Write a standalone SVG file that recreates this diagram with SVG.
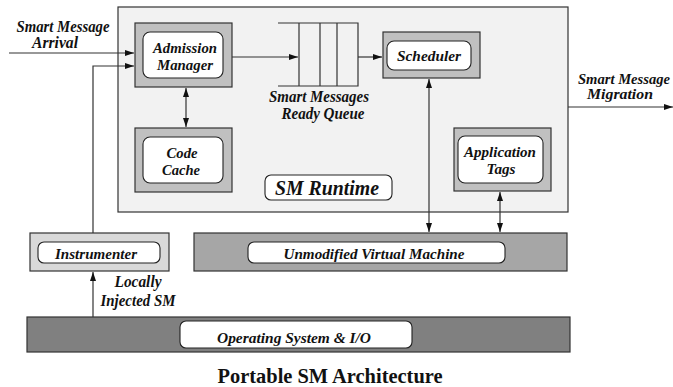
<svg xmlns="http://www.w3.org/2000/svg" width="673" height="387" viewBox="0 0 673 387">
<style>
.frame{fill:#c0c0c0;stroke:#333;stroke-width:1.2}
.inner{fill:#fff;stroke:#222;stroke-width:1.1}
.t{font-family:"Liberation Serif","Times New Roman",serif;font-weight:bold;font-style:italic;font-size:15px;fill:#111;text-anchor:middle}
.lbl{font-size:16px}
.ln{fill:none;stroke:#333;stroke-width:1.2}
</style>
<defs>
<marker id="ah" markerWidth="9" markerHeight="6" refX="9" refY="3" orient="auto-start-reverse" markerUnits="userSpaceOnUse">
<path d="M0,0 L9,3 L0,6 z" fill="#111"/>
</marker>
</defs>
<rect width="673" height="387" fill="#fff"/>

<g id="sm-runtime">
<rect x="118" y="7" width="450" height="205" fill="#f2f2f2" stroke="#333" stroke-width="1.2"/>
<rect x="265" y="175" width="127" height="25" rx="6" class="inner"/>
<text x="327" y="195" class="t" style="font-size:20px" textLength="104" lengthAdjust="spacingAndGlyphs">SM Runtime</text>
</g>

<g id="admission-manager">
<rect x="135" y="23" width="97" height="64" class="frame"/>
<rect x="143" y="32" width="80" height="46" rx="7" class="inner"/>
<text x="185" y="53" class="t" textLength="64" lengthAdjust="spacingAndGlyphs">Admission</text>
<text x="185" y="70" class="t" textLength="56" lengthAdjust="spacingAndGlyphs">Manager</text>
</g>

<g id="code-cache">
<rect x="135" y="128" width="97" height="64" class="frame"/>
<rect x="143" y="137" width="80" height="46" rx="7" class="inner"/>
<text x="182" y="158" class="t" textLength="31" lengthAdjust="spacingAndGlyphs">Code</text>
<text x="181" y="175" class="t" textLength="38" lengthAdjust="spacingAndGlyphs">Cache</text>
</g>

<g id="ready-queue">
<path d="M278,23 H358 V86 H278 M299,23 V86 M320,23 V86 M337,23 V86" class="ln"/>
<text x="319" y="102" class="t lbl" textLength="100" lengthAdjust="spacingAndGlyphs">Smart Messages</text>
<text x="323" y="119" class="t lbl" textLength="83" lengthAdjust="spacingAndGlyphs">Ready Queue</text>
</g>

<g id="scheduler">
<rect x="383" y="32" width="97" height="46" class="frame"/>
<rect x="387" y="41" width="84" height="29" rx="7" class="inner"/>
<text x="429" y="61" class="t" textLength="64" lengthAdjust="spacingAndGlyphs">Scheduler</text>
</g>

<g id="application-tags">
<rect x="454" y="128" width="97" height="63" class="frame"/>
<rect x="458" y="136" width="85" height="47" rx="7" class="inner"/>
<text x="500" y="157" class="t" textLength="72" lengthAdjust="spacingAndGlyphs">Application</text>
<text x="501" y="174" class="t" textLength="29" lengthAdjust="spacingAndGlyphs">Tags</text>
</g>

<g id="instrumenter">
<rect x="30" y="233" width="139" height="38" fill="#d9d9d9" stroke="#333" stroke-width="1.2"/>
<rect x="38" y="242" width="122" height="21" rx="6" class="inner"/>
<text x="96" y="259" class="t" textLength="82" lengthAdjust="spacingAndGlyphs">Instrumenter</text>
</g>

<g id="virtual-machine">
<rect x="194" y="233" width="373" height="38" fill="#a6a6a6" stroke="#333" stroke-width="1.2"/>
<rect x="248" y="242" width="257" height="21" rx="6" class="inner"/>
<text x="374" y="259" class="t" textLength="181" lengthAdjust="spacingAndGlyphs">Unmodified Virtual Machine</text>
</g>

<g id="operating-system">
<rect x="27" y="317" width="543" height="35" fill="#808080" stroke="#333" stroke-width="1.2"/>
<rect x="180" y="321" width="232" height="27" rx="6" class="inner"/>
<text x="294" y="343" class="t" textLength="154" lengthAdjust="spacingAndGlyphs">Operating System &amp; I/O</text>
</g>

<g id="connectors">
<line x1="9" y1="53" x2="134" y2="53" class="ln" marker-end="url(#ah)"/>
<polyline points="93,233 93,66 134,66" class="ln" marker-end="url(#ah)"/>
<line x1="186" y1="88" x2="186" y2="127" class="ln" marker-start="url(#ah)" marker-end="url(#ah)"/>
<line x1="232" y1="57" x2="298" y2="57" class="ln" marker-end="url(#ah)"/>
<line x1="358" y1="57" x2="382" y2="57" class="ln" marker-end="url(#ah)"/>
<line x1="429" y1="79" x2="429" y2="232" class="ln" marker-start="url(#ah)" marker-end="url(#ah)"/>
<line x1="500" y1="192" x2="500" y2="232" class="ln" marker-start="url(#ah)" marker-end="url(#ah)"/>
<line x1="93" y1="317" x2="93" y2="272" class="ln" marker-end="url(#ah)"/>
<line x1="568" y1="107" x2="673" y2="107" class="ln" marker-end="url(#ah)"/>
</g>

<g id="labels">
<text x="63" y="32" class="t lbl" textLength="93" lengthAdjust="spacingAndGlyphs">Smart Message</text>
<text x="55" y="48" class="t lbl" textLength="46" lengthAdjust="spacingAndGlyphs">Arrival</text>
<text x="624" y="84" class="t" textLength="92" lengthAdjust="spacingAndGlyphs">Smart Message</text>
<text x="620" y="99" class="t" textLength="66" lengthAdjust="spacingAndGlyphs">Migration</text>
<text x="138" y="287" class="t lbl" textLength="47" lengthAdjust="spacingAndGlyphs">Locally</text>
<text x="138" y="306" class="t lbl" textLength="75" lengthAdjust="spacingAndGlyphs">Injected SM</text>
<text x="330" y="383" textLength="225" lengthAdjust="spacingAndGlyphs" style="font-family:'Liberation Serif','Times New Roman',serif;font-weight:bold;font-size:21px;text-anchor:middle;fill:#111">Portable SM Architecture</text>
</g>
</svg>
